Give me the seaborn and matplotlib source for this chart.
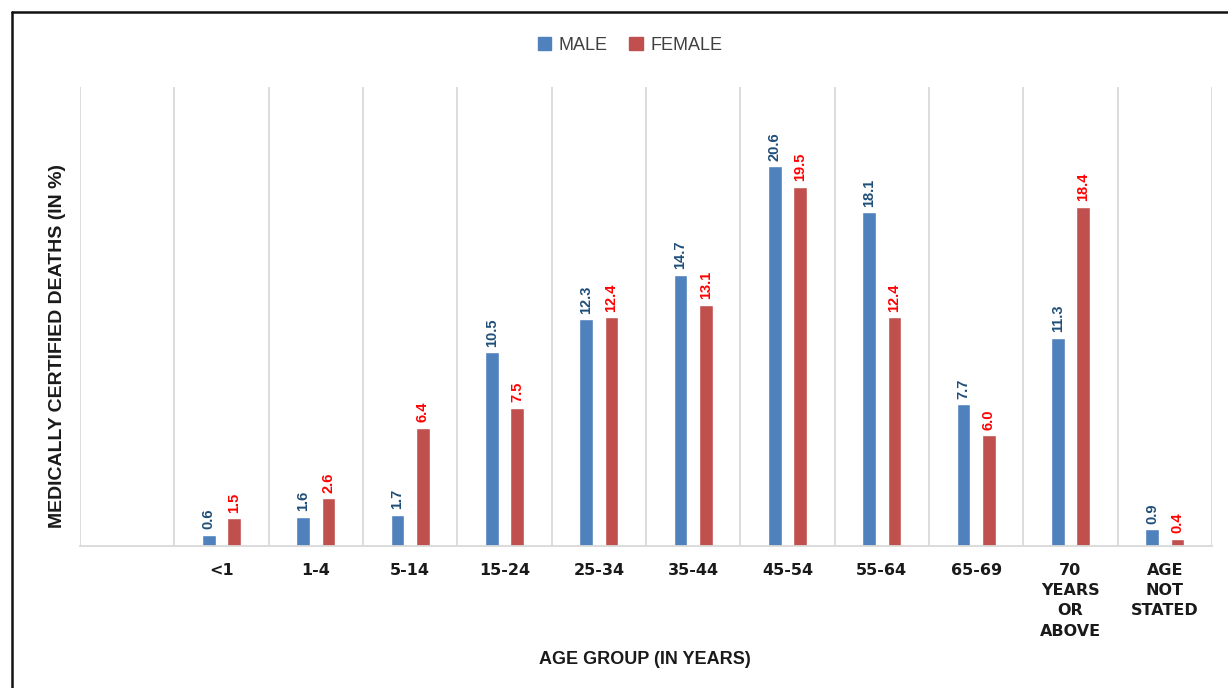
"""
Medically certified deaths by age group and sex, as grouped bars.
"""

import numpy as np
import pandas as pd
import matplotlib
matplotlib.use("Agg")
import matplotlib.pyplot as plt
import matplotlib.ticker as mticker
from matplotlib.lines import Line2D
import seaborn as sns

AGE_GROUPS = ["<1", "1-4", "5-14", "15-24", "25-34", "35-44", "45-54",
              "55-64", "65-69", "70\nYEARS\nOR\nABOVE", "AGE\nNOT\nSTATED"]
MALE = [0.6, 1.6, 1.7, 10.5, 12.3, 14.7, 20.6, 18.1, 7.7, 11.3, 0.9]
FEMALE = [1.5, 2.6, 6.4, 7.5, 12.4, 13.1, 19.5, 12.4, 6.0, 18.4, 0.4]
SEXES = ["MALE", "FEMALE"]

PALETTE = {"MALE": "#4F81BD", "FEMALE": "#C0504D"}
LABEL_COLORS = {"MALE": "#1F4E79", "FEMALE": "#FF0000"}
NARROW = ["Liberation Sans Narrow", "Liberation Sans", "DejaVu Sans"]

sns.set_style("white")
plt.rcParams["font.family"] = ["DejaVu Sans"]

df = pd.DataFrame({
    "age": AGE_GROUPS * 2,
    "sex": ["MALE"] * len(MALE) + ["FEMALE"] * len(FEMALE),
    "value": MALE + FEMALE,
})
# the source chart leaves an empty slot before the first age group
order = [""] + AGE_GROUPS

fig = plt.figure(figsize=(12.28, 6.88), dpi=100)
ax = fig.add_axes([80 / 1228, 1 - 546 / 688, (1212 - 80) / 1228, (546 - 87) / 688])

sns.barplot(data=df, x="age", y="value", hue="sex", order=order, hue_order=SEXES,
            palette=PALETTE, width=0.54, gap=0.47, saturation=1, legend=False, ax=ax)

for cont, sex in zip(ax.containers, SEXES):
    ax.bar_label(cont, fmt="%.1f", rotation=90, padding=4, color=LABEL_COLORS[sex],
                 fontsize=10.5, fontweight="bold", family=NARROW)

ax.set_xlim(-0.5, len(order) - 0.5)
ax.set_ylim(0, 24.9)
ax.set_yticks([])
ax.xaxis.set_minor_locator(mticker.FixedLocator(np.arange(-0.5, len(order), 1)))
ax.grid(True, which="minor", axis="x", color="#D9D9D9", lw=1.3)
ax.grid(False, which="major")
ax.tick_params(axis="x", which="both", length=0, pad=12)
for lbl in ax.get_xticklabels():
    lbl.set_fontweight("bold")
    lbl.set_fontsize(11.5)
    lbl.set_color("#1A1A1A")
    lbl.set_verticalalignment("top")
    lbl.set_linespacing(1.45)
for side in ["top", "left", "right"]:
    ax.spines[side].set_visible(False)
ax.spines["bottom"].set_color("#D9D9D9")
ax.spines["bottom"].set_linewidth(1.3)

ax.set_xlabel("")
ax.set_ylabel("")
fig.text(645 / 1228, 1 - 660 / 688, "AGE GROUP (IN YEARS)", ha="center", va="center",
         fontsize=13, fontweight="bold", family=NARROW, color="#1A1A1A")
fig.text(58 / 1228, 1 - 346 / 688, "MEDICALLY CERTIFIED DEATHS (IN %)", ha="center",
         va="center", rotation=90, fontsize=14, fontweight="bold", family=NARROW,
         color="#1A1A1A")

handles = [plt.Rectangle((0, 0), 1, 1, color=PALETTE[s]) for s in SEXES]
fig.legend(handles, SEXES, loc="center", bbox_to_anchor=(630 / 1228, 1 - 45 / 688),
           ncol=2, frameon=False, handlelength=0.75, handleheight=0.75,
           handletextpad=0.4, columnspacing=1.2,
           prop={"family": NARROW, "size": 13}, labelcolor="#404040")

# outer frame, cut off at right and bottom like the source image
fig.add_artist(Line2D([12 / 1228, 12 / 1228], [0, 1 - 12 / 688], transform=fig.transFigure,
                      color="#111111", lw=1.8))
fig.add_artist(Line2D([12 / 1228, 1], [1 - 12 / 688, 1 - 12 / 688], transform=fig.transFigure,
                      color="#111111", lw=1.8))

fig.savefig("out.png", dpi=100)
